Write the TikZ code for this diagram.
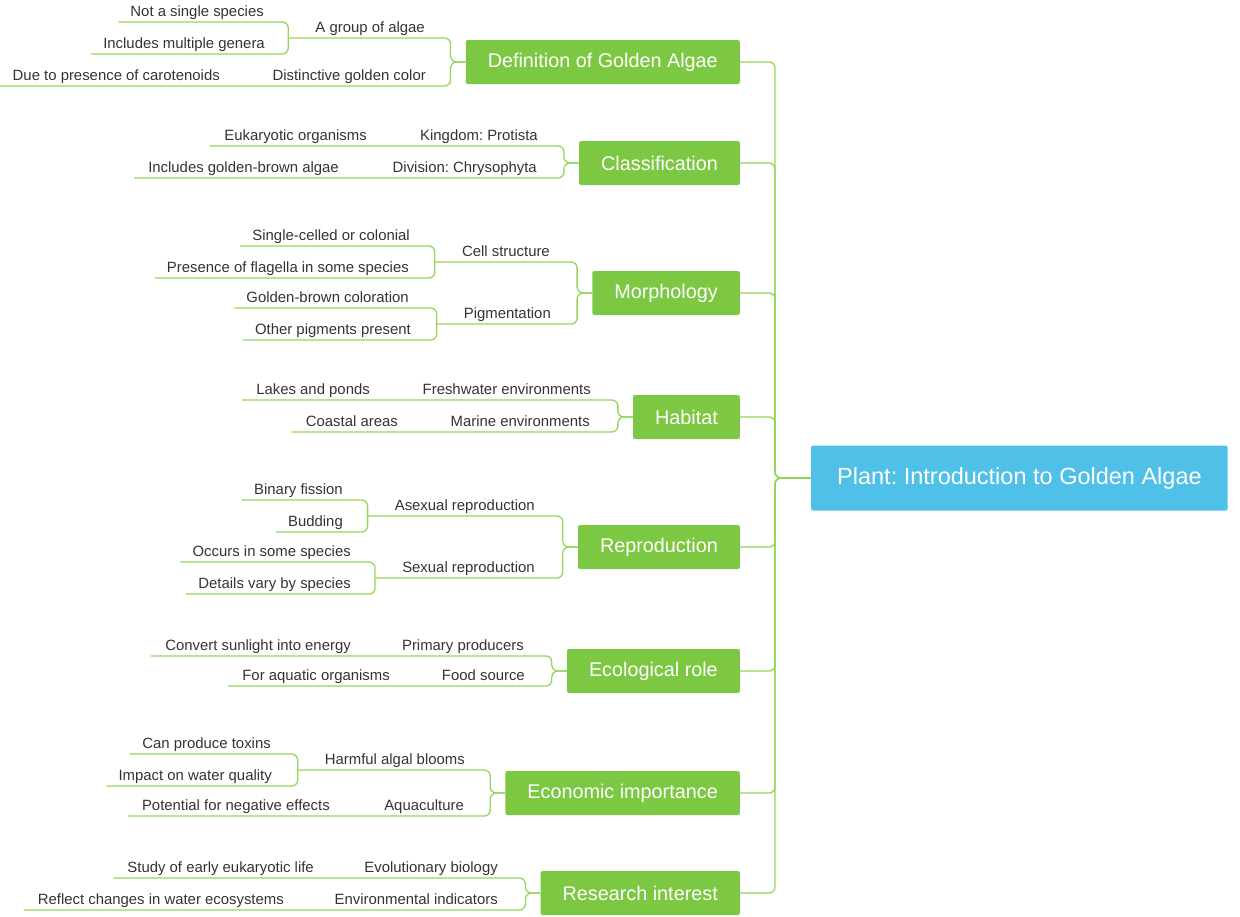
\documentclass[tikz,border=0pt]{standalone}
\usepackage{fontspec}
\setmainfont{Liberation Sans}
\frenchspacing
\usetikzlibrary{positioning,calc}
\definecolor{leafgreen}{HTML}{7DC843}
\definecolor{linegreen}{HTML}{93D65A}
\definecolor{rootblue}{HTML}{4FC0E8}
\tikzset{
    topic/.style={fill=leafgreen, text=white, font=\fontsize{19.8}{22}\selectfont, minimum height=44pt, inner xsep=22pt, rounded corners=2pt, anchor=east},
    root/.style={fill=rootblue, text=white, font=\fontsize{23.5}{26}\selectfont, minimum height=65pt, inner xsep=26pt, rounded corners=2pt, anchor=west},
    sub/.style={font=\fontsize{14.9}{17}\selectfont, text=black!80, inner sep=2pt, text height=10pt, text depth=3pt, anchor=south east},
    link/.style={draw=linegreen, line width=1.3pt, rounded corners=6pt},
}
\begin{document}
\begin{tikzpicture}[x=1pt,y=-1pt]
    \useasboundingbox (0,0) rectangle (1240,916);
    \node[root] (root) at (811,478) {Plant: Introduction to Golden Algae};

    % topics
    \node[topic] (def) at (740,62) {Definition of Golden Algae};
    \node[topic] (cls) at (740,163) {Classification};
    \node[topic] (mor) at (740,293) {Morphology};
    \node[topic] (hab) at (740,417) {Habitat};
    \node[topic] (rep) at (740,547) {Reproduction};
    \node[topic] (eco) at (740,671) {Ecological role};
    \node[topic] (ecn) at (740,793) {Economic importance};
    \node[topic] (res) at (740,893) {Research interest};
    \foreach \t in {def,cls,mor,hab,rep,eco,ecn,res}
        \draw[link] (\t.east) -| ([xshift=-36pt]root.west) -- (root.west);

    % definition
    \node[sub] (defa) at (427,38) {A group of algae};
    \node[sub] (defb) at (428,86) {Distinctive golden color};
    \node[sub] (defa1) at (266,22) {Not a single species};
    \node[sub] (defa2) at (267,54) {Includes multiple genera};
    \node[sub] (defb1) at (222,86) {Due to presence of carotenoids};
    \draw[link] ([xshift=-25pt]defa.south west) -| ([xshift=-15pt]def.west) -- (def.west);
    \draw[link] ([xshift=-12pt]defb1.south west) -| ([xshift=-15pt]def.west) -- (def.west);
    \foreach \g in {defa1,defa2}
        \draw[link] ([xshift=-10pt]\g.south west) -| ([xshift=-25pt]defa.south west);

    % classification
    \node[sub] (clsa) at (540,146) {Kingdom: Protista};
    \node[sub] (clsb) at (539,178) {Division: Chrysophyta};
    \node[sub] (clsa1) at (369,146) {Eukaryotic organisms};
    \node[sub] (clsb1) at (341,178) {Includes golden-brown algae};
    \foreach \g in {clsa1,clsb1}
        \draw[link] ([xshift=-12pt]\g.south west) -| ([xshift=-15pt]cls.west) -- (cls.west);

    % morphology
    \node[sub] (mora) at (552,262) {Cell structure};
    \node[sub] (morb) at (553,324) {Pigmentation};
    \node[sub] (mora1) at (412,246) {Single-celled or colonial};
    \node[sub] (mora2) at (411,278) {Presence of flagella in some species};
    \node[sub] (morb1) at (411,308) {Golden-brown coloration};
    \node[sub] (morb2) at (413,340) {Other pigments present};
    \foreach \c in {mora,morb}
        \draw[link] ([xshift=-25pt]\c.south west) -| ([xshift=-15pt]mor.west) -- (mor.west);
    \foreach \g/\c in {mora1/mora,mora2/mora,morb1/morb,morb2/morb}
        \draw[link] ([xshift=-10pt]\g.south west) -| ([xshift=-25pt]\c.south west);

    % habitat
    \node[sub] (haba) at (593,400) {Freshwater environments};
    \node[sub] (habb) at (592,432) {Marine environments};
    \node[sub] (haba1) at (372,400) {Lakes and ponds};
    \node[sub] (habb1) at (400,432) {Coastal areas};
    \foreach \g in {haba1,habb1}
        \draw[link] ([xshift=-12pt]\g.south west) -| ([xshift=-15pt]hab.west) -- (hab.west);

    % reproduction
    \node[sub] (repa) at (537,516) {Asexual reproduction};
    \node[sub] (repb) at (537,578) {Sexual reproduction};
    \node[sub] (repa1) at (345,500) {Binary fission};
    \node[sub] (repa2) at (345,532) {Budding};
    \node[sub] (repb1) at (353,562) {Occurs in some species};
    \node[sub] (repb2) at (353,594) {Details vary by species};
    \foreach \c in {repa,repb}
        \draw[link] ([xshift=-25pt]\c.south west) -| ([xshift=-15pt]rep.west) -- (rep.west);
    \foreach \g/\c in {repa1/repa,repa2/repa,repb1/repb,repb2/repb}
        \draw[link] ([xshift=-10pt]\g.south west) -| ([xshift=-25pt]\c.south west);

    % ecological role
    \node[sub] (ecoa) at (526,656) {Primary producers};
    \node[sub] (ecob) at (527,686) {Food source};
    \node[sub] (ecoa1) at (353,656) {Convert sunlight into energy};
    \node[sub] (ecob1) at (392,686) {For aquatic organisms};
    \foreach \g in {ecoa1,ecob1}
        \draw[link] ([xshift=-12pt]\g.south west) -| ([xshift=-15pt]eco.west) -- (eco.west);

    % economic importance
    \node[sub] (ecna) at (467,770) {Harmful algal blooms};
    \node[sub] (ecnb) at (466,816) {Aquaculture};
    \node[sub] (ecna1) at (273,754) {Can produce toxins};
    \node[sub] (ecna2) at (274,786) {Impact on water quality};
    \node[sub] (ecnb1) at (332,816) {Potential for negative effects};
    \draw[link] ([xshift=-25pt]ecna.south west) -| ([xshift=-15pt]ecn.west) -- (ecn.west);
    \draw[link] ([xshift=-12pt]ecnb1.south west) -| ([xshift=-15pt]ecn.west) -- (ecn.west);
    \foreach \g in {ecna1,ecna2}
        \draw[link] ([xshift=-10pt]\g.south west) -| ([xshift=-25pt]ecna.south west);

    % research interest
    \node[sub] (resa) at (500,878) {Evolutionary biology};
    \node[sub] (resb) at (500,910) {Environmental indicators};
    \node[sub] (resa1) at (316,878) {Study of early eukaryotic life};
    \node[sub] (resb1) at (286,910) {Reflect changes in water ecosystems};
    \foreach \g in {resa1,resb1}
        \draw[link] ([xshift=-12pt]\g.south west) -| ([xshift=-15pt]res.west) -- (res.west);
\end{tikzpicture}
\end{document}
